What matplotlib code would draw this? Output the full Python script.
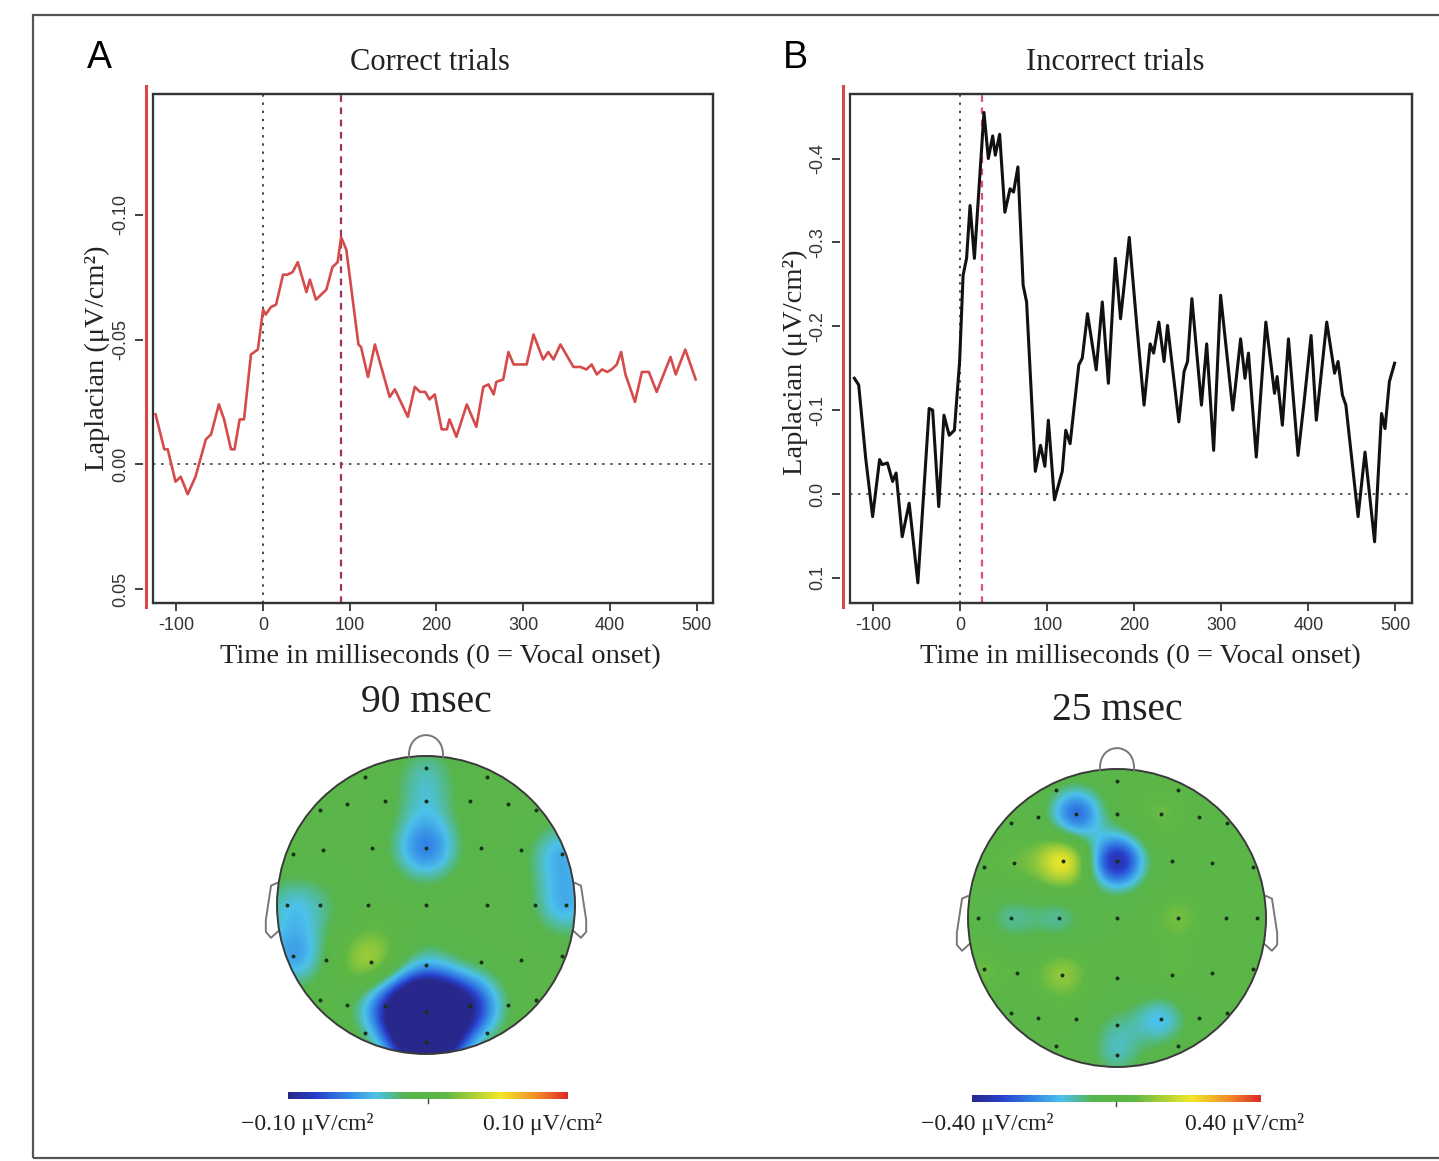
import numpy as np
import matplotlib
matplotlib.use('Agg')
import matplotlib.pyplot as plt
from matplotlib.colors import LinearSegmentedColormap
from matplotlib.patches import Circle, Rectangle, Polygon

# ---------------- data ----------------
t_correct = [-124, -114, -110, -101, -95, -87, -78, -66, -60, -51, -45, -37, -33, -27, -22,
             -14, -6, 0, 3, 9, 15, 23, 28, 34, 40, 50, 54, 61, 67, 73, 80, 86, 90, 96,
             110, 113, 121, 129, 146, 152, 167, 175, 181, 187, 192, 198, 206, 212, 215,
             223, 235, 246, 254, 260, 266, 269, 277, 283, 289, 300, 304, 312, 323, 329,
             335, 343, 358, 366, 373, 379, 385, 391, 397, 402, 408, 413, 418, 429, 437,
             445, 454, 462, 470, 476, 487, 499]
v_correct = [-0.020, -0.006, -0.006, 0.007, 0.005, 0.012, 0.005, -0.010, -0.012, -0.024,
             -0.018, -0.006, -0.006, -0.018, -0.018, -0.044, -0.046, -0.062, -0.060, -0.063,
             -0.064, -0.076, -0.076, -0.077, -0.081, -0.069, -0.074, -0.066, -0.068, -0.070,
             -0.079, -0.081, -0.091, -0.086, -0.048, -0.047, -0.035, -0.048, -0.027, -0.030,
             -0.019, -0.031, -0.029, -0.029, -0.026, -0.028, -0.014, -0.014, -0.018, -0.011,
             -0.024, -0.015, -0.031, -0.032, -0.028, -0.033, -0.034, -0.045, -0.040, -0.040,
             -0.040, -0.052, -0.042, -0.045, -0.042, -0.048, -0.039, -0.039, -0.038, -0.040,
             -0.036, -0.038, -0.037, -0.038, -0.040, -0.045, -0.036, -0.025, -0.037, -0.037,
             -0.029, -0.036, -0.043, -0.036, -0.046, -0.034]

t_incorrect = [-122, -117, -109, -101, -93, -90, -84, -78, -74, -67, -59, -49, -36, -32, -25,
               -19, -13, -7, -1, 3, 7, 11, 16, 22, 27, 32, 37, 40, 45, 51, 57, 61, 66, 72,
               76, 86, 92, 97, 101, 108, 117, 121, 126, 136, 140, 146, 156, 163, 170, 178,
               184, 194, 203, 211, 218, 222, 228, 234, 238, 251, 257, 261, 266, 277, 283,
               291, 299, 313, 322, 327, 331, 340, 351, 361, 364, 370, 377, 388, 395, 403,
               409, 421, 430, 434, 439, 443, 457, 465, 476, 484, 488, 493, 499]
v_incorrect = [-0.138, -0.130, -0.043, 0.027, -0.041, -0.035, -0.037, -0.015, -0.025, 0.051,
               0.011, 0.106, -0.102, -0.100, 0.015, -0.094, -0.070, -0.076, -0.158, -0.261,
               -0.281, -0.344, -0.281, -0.376, -0.455, -0.400, -0.427, -0.404, -0.429, -0.336,
               -0.364, -0.360, -0.390, -0.249, -0.229, -0.027, -0.058, -0.033, -0.088, 0.007,
               -0.027, -0.076, -0.060, -0.154, -0.162, -0.215, -0.148, -0.229, -0.132, -0.281,
               -0.209, -0.306, -0.197, -0.106, -0.179, -0.168, -0.205, -0.158, -0.201, -0.086,
               -0.146, -0.158, -0.233, -0.106, -0.179, -0.052, -0.237, -0.100, -0.185, -0.138,
               -0.168, -0.044, -0.205, -0.120, -0.140, -0.082, -0.185, -0.046, -0.110, -0.189,
               -0.088, -0.205, -0.144, -0.158, -0.118, -0.106, 0.027, -0.050, 0.057, -0.096,
               -0.078, -0.134, -0.156]

x_ticks = [-100, 0, 100, 200, 300, 400, 500]
x_ticklabels = ['-100', '0', '100', '200', '300', '400', '500']
yticks_a = [-0.10, -0.05, 0.00, 0.05]
yticklabels_a = ['-0.10', '-0.05', '0.00', '0.05']
yticks_b = [-0.4, -0.3, -0.2, -0.1, 0.0, 0.1]
yticklabels_b = ['-0.4', '-0.3', '-0.2', '-0.1', '0.0', '0.1']
marker_a = 90
marker_b = 25

# electrode layout (normalised head coordinates)
elec_x = [0.0, -0.41, 0.41,
          -0.71, -0.53, -0.275, 0.0, 0.295, 0.55, 0.74,
          -0.89, -0.69, -0.36, 0.0, 0.37, 0.64, 0.91,
          -0.93, -0.71, -0.39, 0.0, 0.41, 0.73, 0.94,
          -0.89, -0.67, -0.37, 0.0, 0.37, 0.64, 0.91,
          -0.71, -0.53, -0.275, 0.0, 0.295, 0.55, 0.74,
          -0.41, 0.41, 0.0]
elec_y = [0.92, 0.86, 0.86,
          0.64, 0.68, 0.70, 0.70, 0.70, 0.68, 0.64,
          0.34, 0.37, 0.38, 0.38, 0.38, 0.37, 0.34,
          0.0, 0.0, 0.0, 0.0, 0.0, 0.0, 0.0,
          -0.34, -0.37, -0.38, -0.40, -0.38, -0.37, -0.34,
          -0.64, -0.67, -0.68, -0.72, -0.68, -0.67, -0.64,
          -0.86, -0.86, -0.92]
# electrode amplitudes at 90 ms (correct) and 25 ms (incorrect), µV/cm²
vals_a = [-0.02, 0.0, 0.0,
          0.0, 0.0, 0.0, -0.02, 0.0, 0.0, 0.0,
          0.0, 0.0, 0.0, -0.055, 0.0, 0.0, -0.04,
          -0.025, -0.015, 0.0, 0.0, 0.0, 0.0, -0.04,
          -0.045, 0.0, 0.035, -0.02, 0.0, 0.0, 0.0,
          0.0, 0.0, -0.05, -0.17, -0.07, 0.0, 0.0,
          0.0, 0.0, -0.12]
vals_b = [0.0, 0.0, 0.0,
          0.0, 0.0, -0.26, 0.0, 0.06, 0.0, 0.0,
          0.0, 0.05, 0.21, -0.36, 0.0, 0.0, 0.0,
          0.0, -0.10, -0.10, 0.0, 0.07, 0.0, 0.0,
          0.06, 0.0, 0.1, 0.0, 0.04, 0.0, 0.0,
          0.0, 0.0, 0.0, -0.06, -0.15, 0.0, 0.0,
          0.0, 0.0, -0.1]
vlim_a = 0.10
vlim_b = 0.40

# ---------------- figure ----------------
W, H = 1439, 1161
fig = plt.figure(figsize=(W / 100, H / 100), dpi=100)
fig.patch.set_facecolor('white')
SERIF = 'Liberation Serif'
SANS = 'Liberation Sans'

fig.add_artist(Rectangle((33 / W, 1 - 1158 / H), (1460 - 33) / W, (1158 - 15) / H,
                         transform=fig.transFigure, fill=False, ec='#555555', lw=1.6))


def ax_rect(left, top, right, bottom):
    return [left / W, 1 - bottom / H, (right - left) / W, (bottom - top) / H]


def line_panel(rect, spine_x, t, v, color, lw, ylim, yt, ytl, marker, mcolor):
    ax = fig.add_axes(rect)
    ax.plot(t, v, color=color, lw=lw, zorder=3, solid_joinstyle='round')
    ax.axhline(0, color='#555555', ls=(0, (1.2, 3)), lw=1.4, zorder=1)
    ax.axvline(0, color='#444444', ls=(0, (1.2, 3)), lw=1.4, zorder=1)
    ax.axvline(marker, color=mcolor, ls=(0, (3, 2.5)), lw=1.6, zorder=2)
    ax.set_xlim(-127, 519)
    ax.set_ylim(ylim)
    for s in ['top', 'right', 'bottom']:
        ax.spines[s].set_color('#333333')
        ax.spines[s].set_linewidth(1.6)
    ax.spines['left'].set_position(('outward', 7))
    ax.spines['left'].set_color('none')
    fig.add_artist(plt.Line2D([spine_x / W, spine_x / W], [1 - 607 / H, 1 - 86 / H],
                              transform=fig.transFigure, color='#d84848', lw=2.2))
    ax.add_patch(Rectangle((0, 0), 1, 1, transform=ax.transAxes, fill=False,
                           ec='#333333', lw=1.6, clip_on=False, zorder=5))
    ax.set_xticks(x_ticks)
    ax.set_xticklabels(x_ticklabels, fontfamily=SANS, fontsize=13, color='#333333')
    ax.set_yticks(yt)
    ax.set_yticklabels(ytl, fontfamily=SANS, fontsize=13, color='#333333',
                       rotation=90, va='center')
    ax.tick_params(axis='both', direction='out', length=6, width=1.3, color='#333333')
    ax.tick_params(axis='x', pad=4)
    ax.tick_params(axis='y', pad=4)
    return ax


axA = line_panel(ax_rect(153, 94, 713, 603), 146, t_correct, v_correct, '#d54b4b', 1.9,
                 (0.0556, -0.1484), yticks_a, yticklabels_a, marker_a, '#a0305c')
axB = line_panel(ax_rect(850, 94, 1412, 603), 843, t_incorrect, v_incorrect, '#111111', 2.2,
                 (0.130, -0.477), yticks_b, yticklabels_b, marker_b, '#e0507a')

# texts around line panels
fig.text(99 / W, 1 - 58 / H, 'A', fontfamily=SANS, fontsize=27, ha='center', va='center')
fig.text(795 / W, 1 - 58 / H, 'B', fontfamily=SANS, fontsize=27, ha='center', va='center')
fig.text(430 / W, 1 - 62 / H, 'Correct trials', fontfamily=SERIF, fontsize=22,
         ha='center', va='center', color='#222222')
fig.text(1115 / W, 1 - 62 / H, 'Incorrect trials', fontfamily=SERIF, fontsize=22,
         ha='center', va='center', color='#222222')
for xc, yc in [(97, 358), (795, 362)]:
    fig.text(xc / W, 1 - yc / H, 'Laplacian (μV/cm²)', fontfamily=SERIF, fontsize=20.5,
             rotation=90, ha='center', va='center', color='#222222')
for xc in [440, 1140]:
    fig.text(xc / W, 1 - 657 / H, 'Time in milliseconds (0 = Vocal onset)', fontfamily=SERIF,
             fontsize=20.5, ha='center', va='center', color='#222222')

# ---------------- topographic maps ----------------
cmap = LinearSegmentedColormap.from_list('topo', [
    (0.0, (0.16, 0.16, 0.55)),
    (0.10, (0.16, 0.25, 0.80)),
    (0.21, (0.20, 0.52, 0.90)),
    (0.31, (0.30, 0.76, 0.92)),
    (0.42, (0.34, 0.71, 0.30)),
    (0.56, (0.37, 0.72, 0.27)),
    (0.76, (0.95, 0.91, 0.16)),
    (0.90, (0.95, 0.52, 0.16)),
    (1.0, (0.86, 0.16, 0.16)),
])


def topo(cx, cy, r, vals, vlim, sig, title, title_y, cb, lo_text, hi_text, lo_x, hi_x):
    half = 1.2 * r
    ax = fig.add_axes([(cx - half) / W, 1 - (cy + half) / H, 2 * half / W, 2 * half / H])
    ax.set_xlim(-1.2, 1.2)
    ax.set_ylim(-1.2, 1.2)
    ax.axis('off')
    g = np.linspace(-1, 1, 401)
    X, Y = np.meshgrid(g, g)
    Z = np.zeros_like(X)
    for x0, y0, v in zip(elec_x, elec_y, vals):
        Z += v * np.exp(-((X - x0) ** 2 + (Y - y0) ** 2) / (2 * sig ** 2))
    im = ax.imshow(Z, extent=(-1, 1, -1, 1), origin='lower', cmap=cmap, vmin=-vlim,
                   vmax=vlim, interpolation='bilinear', zorder=1)
    clip = Circle((0, 0), 1.0, transform=ax.transData)
    im.set_clip_path(clip)
    ax.add_patch(Circle((0, 0), 1.0, fc='none', ec='#3a3a3a', lw=1.4, zorder=3))
    # nose
    th = np.linspace(0, np.pi, 40)
    nx = 0.115 * np.cos(th)
    ny = 0.99 + 0.15 * np.sin(th) ** 0.8
    ax.plot(nx, ny, color='#777777', lw=1.4, zorder=3)
    # ears
    for sgn in (-1, 1):
        ear = [(0.995, 0.15), (1.04, 0.13), (1.075, -0.10), (1.075, -0.18), (1.04, -0.22),
               (0.985, -0.17)]
        ax.add_patch(Polygon([(sgn * x, y) for x, y in ear], closed=False, fc='none',
                             ec='#777777', lw=1.4, zorder=2, joinstyle='round'))
    ax.scatter(elec_x, elec_y, s=8, c='#17301a', zorder=4, linewidths=0)
    fig.text(cx / W, 1 - title_y / H, title, fontfamily=SERIF, fontsize=28.5, ha='center',
             va='center', color='#222222')
    # colour bar
    cax = fig.add_axes(ax_rect(*cb))
    cax.imshow(np.linspace(0, 1, 256)[None, :], cmap=cmap, aspect='auto',
               extent=(0, 1, 0, 1))
    cax.axis('off')
    mid = (cb[0] + cb[2]) / 2
    fig.add_artist(plt.Line2D([mid / W, mid / W], [1 - cb[3] / H, 1 - (cb[3] + 4) / H],
                              transform=fig.transFigure, color='#444444', lw=1))
    fig.text(lo_x / W, 1 - 1124 / H, lo_text, fontfamily=SERIF, fontsize=17, ha='center',
             va='center', color='#222222')
    fig.text(hi_x / W, 1 - 1124 / H, hi_text, fontfamily=SERIF, fontsize=17, ha='center',
             va='center', color='#222222')


topo(426, 905, 149, vals_a, vlim_a, 0.16, '90 msec', 703, (288, 1092, 568, 1099),
     '−0.10 μV/cm²', '0.10 μV/cm²', 307, 543)
topo(1117, 918, 149, vals_b, vlim_b, 0.13, '25 msec', 710, (972, 1095, 1260, 1102),
     '−0.40 μV/cm²', '0.40 μV/cm²', 987, 1245)

fig.savefig('out.png', dpi=100, facecolor='white')
